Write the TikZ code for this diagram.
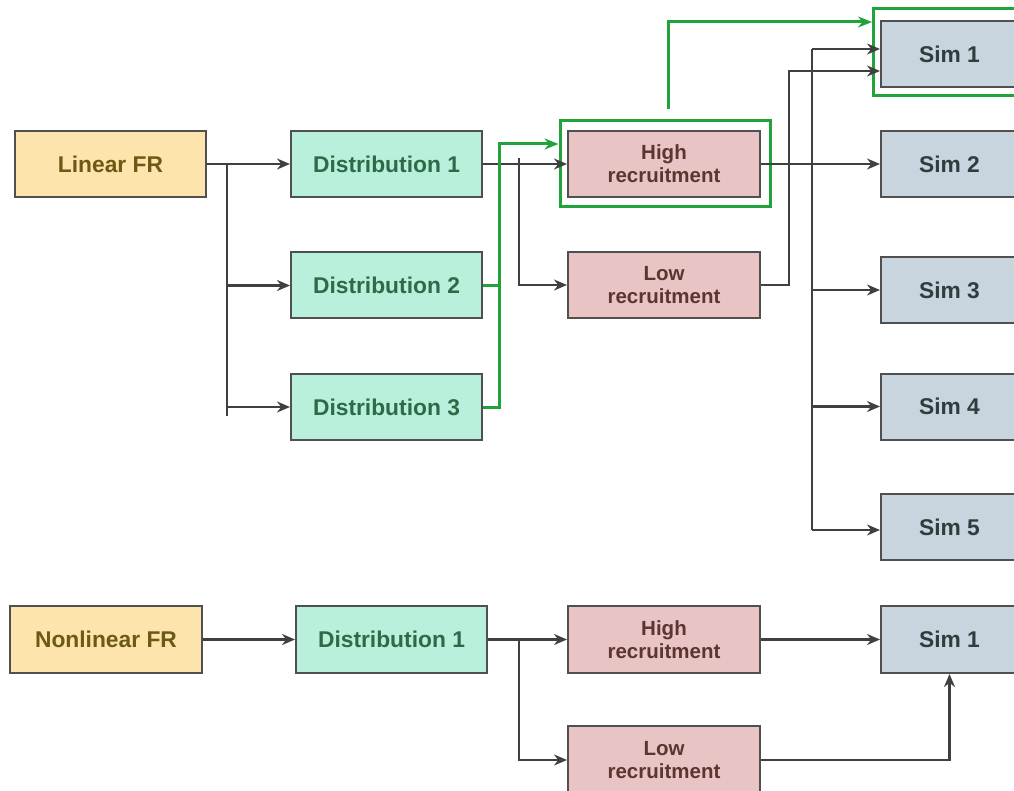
\documentclass[tikz,border=0pt]{standalone}
\usepackage{fontspec}
\setmainfont{Liberation Sans}
\usetikzlibrary{arrows.meta}
\definecolor{frfill}{HTML}{FDE3AC}
\definecolor{frtext}{HTML}{6B5A15}
\definecolor{dfill}{HTML}{B8F0DC}
\definecolor{dtext}{HTML}{2D6B48}
\definecolor{rfill}{HTML}{E8C4C4}
\definecolor{rtext}{HTML}{5C3530}
\definecolor{sfill}{HTML}{C9D5DE}
\definecolor{stext}{HTML}{2E3E3E}
\definecolor{boxline}{HTML}{505050}
\definecolor{lineclr}{HTML}{404040}
\definecolor{gclr}{HTML}{1FA33A}
\begin{document}
\begin{tikzpicture}[x=1pt,y=-1pt,
  box/.style={draw=boxline,line width=2pt,minimum height=66pt,inner sep=0pt,align=center,font=\bfseries\fontsize{22.8}{24}\selectfont},
  frbox/.style={box,fill=frfill,text=frtext,minimum width=191pt},
  distbox/.style={box,fill=dfill,text=dtext,minimum width=191pt},
  recbox/.style={box,fill=rfill,text=rtext,minimum width=192pt,font=\bfseries\fontsize{20.5}{23}\selectfont},
  simbox/.style={box,fill=sfill,text=stext,minimum width=137pt},
  gframe/.style={draw=gclr,line width=3pt,inner sep=0pt},
  ln/.style={draw=lineclr,line width=2.5pt},
  conn/.style={ln,-{Stealth[length=13pt,width=11pt]}},
  gln/.style={draw=gclr,line width=3pt},
  gconn/.style={gln,-{Stealth[length=14pt,width=11pt]}}]
\useasboundingbox (0,0) rectangle (1014,791);
\fill[white] (0,0) rectangle (1014,791);

% green frames
\node[gframe,minimum width=210pt,minimum height=86pt] (hrf) at (665,164) {};
\node[gframe,minimum width=170pt,minimum height=87pt] (s1f) at (958,52.5) {};

% top nodes
\node[frbox] (lfr) at (110.5,164) {Linear FR};
\node[distbox] (d1) at (386.5,164) {Distribution 1};
\node[distbox] (d2) at (386.5,285.5) {Distribution 2};
\node[distbox] (d3) at (386.5,407) {Distribution 3};
\node[recbox] (hr) at (664,164) {High\\recruitment};
\node[recbox] (lr) at (664,285) {Low\\recruitment};
\node[simbox] (s1) at (949.5,54) {Sim 1};
\node[simbox] (s2) at (949.5,164) {Sim 2};
\node[simbox] (s3) at (949.5,290) {Sim 3};
\node[simbox] (s4) at (949.5,406.5) {Sim 4};
\node[simbox] (s5) at (949.5,527) {Sim 5};

% bottom nodes
\node[frbox,minimum width=192pt,minimum height=67pt] (nfr) at (106,639.5) {Nonlinear FR};
\node[distbox,minimum height=67pt] (bd1) at (391.5,639.5) {Distribution 1};
\node[recbox,minimum height=67pt] (bhr) at (664,639.5) {High\\recruitment};
\node[recbox,minimum height=68pt] (blr) at (664,760) {Low\\recruitment};
\node[simbox,minimum height=67pt] (bs1) at (949.5,639.5) {Sim 1};

% coordinates
\coordinate (j1) at (227,164);
\coordinate (j1b) at (227,416);
\coordinate (j2) at (519,158);
\coordinate (g1) at (499,144);
\coordinate (g1a) at (hrf.west |- g1);
\coordinate (g2) at (668,109);
\coordinate (g3) at (872,22);
\coordinate (j3t) at (812,49);
\coordinate (j3b) at (812,530);
\coordinate (j4) at (789,71);
\coordinate (j5) at (519,639.5);

% top connectors
\draw[conn] (lfr.east) -- (d1.west);
\draw[ln] (j1) -- (j1b);
\draw[conn] (j1 |- d2.west) -- (d2.west);
\draw[conn] (j1 |- d3.west) -- (d3.west);
\draw[conn] (d1.east) -- (hr.west);
\draw[conn] (j2) |- (lr.west);
\draw[gln] (d2.east) -- (d2.east -| g1);
\draw[gconn] (d3.east) -| (g1) -- (g1a);
\draw[gconn] (g2) |- (g3);
\draw[conn] (hr.east) -- (s2.west);
\draw[ln] (j3t) -- (j3b);
\draw[conn] (j3t) -- (s1.west |- j3t);
\draw[conn] (j3t |- s3.west) -- (s3.west);
\draw[conn] (j3t |- s4.west) -- (s4.west);
\draw[conn] (j3b) -- (s5.west |- j3b);
\draw[conn] (lr.east) -| (j4) -- (s1.west |- j4);

% bottom connectors
\draw[conn] (nfr.east) -- (bd1.west);
\draw[conn] (bd1.east) -- (bhr.west);
\draw[conn] (j5) |- (blr.west);
\draw[conn] (bhr.east) -- (bs1.west);
\draw[conn] (blr.east) -| (bs1.south);
\end{tikzpicture}
\end{document}
